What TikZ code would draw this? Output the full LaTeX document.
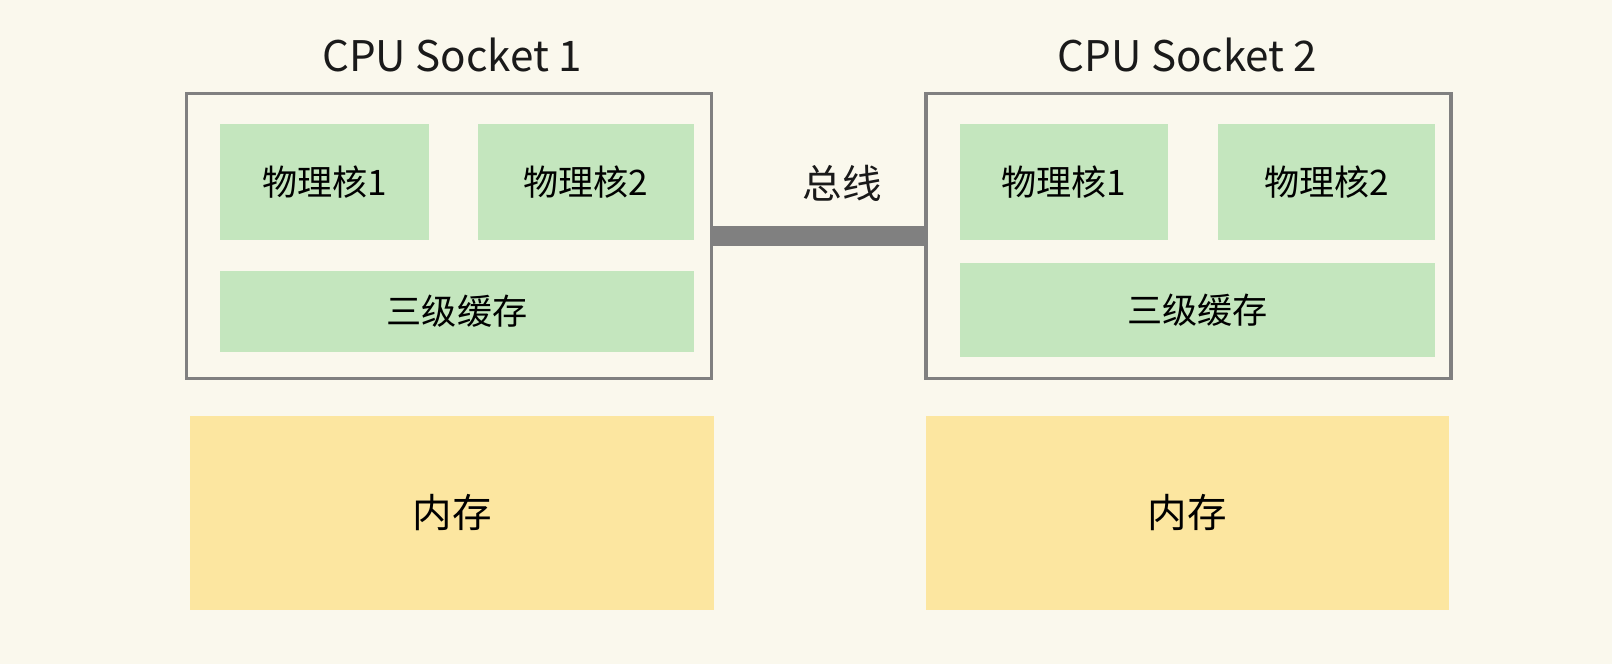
\documentclass[tikz,border=0pt]{standalone}
\usepackage{fontspec}
\setmainfont{Noto Sans CJK SC}
\usepackage{tikz}
\usetikzlibrary{calc}

\begin{document}
\begin{tikzpicture}[socket/.style={
      draw=sgray,
      line width=2.2pt,
      minimum width=10.5cm,
      minimum height=5.7cm
    },
    core/.style={fill=cgreen,draw=none,font=\fontsize{20}{24}\selectfont},
    mem/.style={fill=myellow,draw=none,minimum width=10.47cm, minimum height=3.88cm,font=\fontsize{22.5}{26}\selectfont}]

\definecolor{bgc}{RGB}{250,248,237}
\definecolor{sgray}{RGB}{128,128,128}
\definecolor{cgreen}{RGB}{196,230,190}
\definecolor{myellow}{RGB}{252,230,160}
\definecolor{tblack}{RGB}{26,26,26}

\fill[bgc] (0,0) rectangle (32.24,13.28);
\useasboundingbox (0,0) rectangle (32.24,13.28);

\node[draw=none,tblack,font=\fontsize{24}{28}\selectfont] (t1) at (9.04,12.18) {CPU Socket 1};
\node[draw=none,tblack,font=\fontsize{24}{28}\selectfont] (t2) at (23.75,12.18) {CPU Socket 2};

\node[socket] (s1) at (8.98,8.56) {};
\node[socket] (s2) at (23.77,8.56) {};

\node[core,minimum width=4.18cm, minimum height=2.32cm] (c11) at (6.49,9.64) {物理核1};
\node[core,minimum width=4.32cm, minimum height=2.32cm] (c12) at (11.72,9.64) {物理核2};
\node[core,minimum width=9.48cm, minimum height=1.62cm] (l31) at (9.14,7.05) {三级缓存};

\node[core,minimum width=4.16cm, minimum height=2.32cm] (c21) at (21.28,9.64) {物理核1};
\node[core,minimum width=4.34cm, minimum height=2.32cm] (c22) at (26.53,9.64) {物理核2};
\node[core,minimum width=9.5cm, minimum height=1.88cm] (l32) at (23.95,7.08) {三级缓存};

\node[mem] (m1) at (9.04,3.02) {内存};
\node[mem] (m2) at (23.75,3.02) {内存};

\draw[-,sgray,line width=0.4cm] (s1.east) -- (s2.west);
\node[draw=none,tblack,font=\fontsize{22.5}{26}\selectfont] (bus) at (16.84,9.62) {总线};

\end{tikzpicture}
\end{document}
